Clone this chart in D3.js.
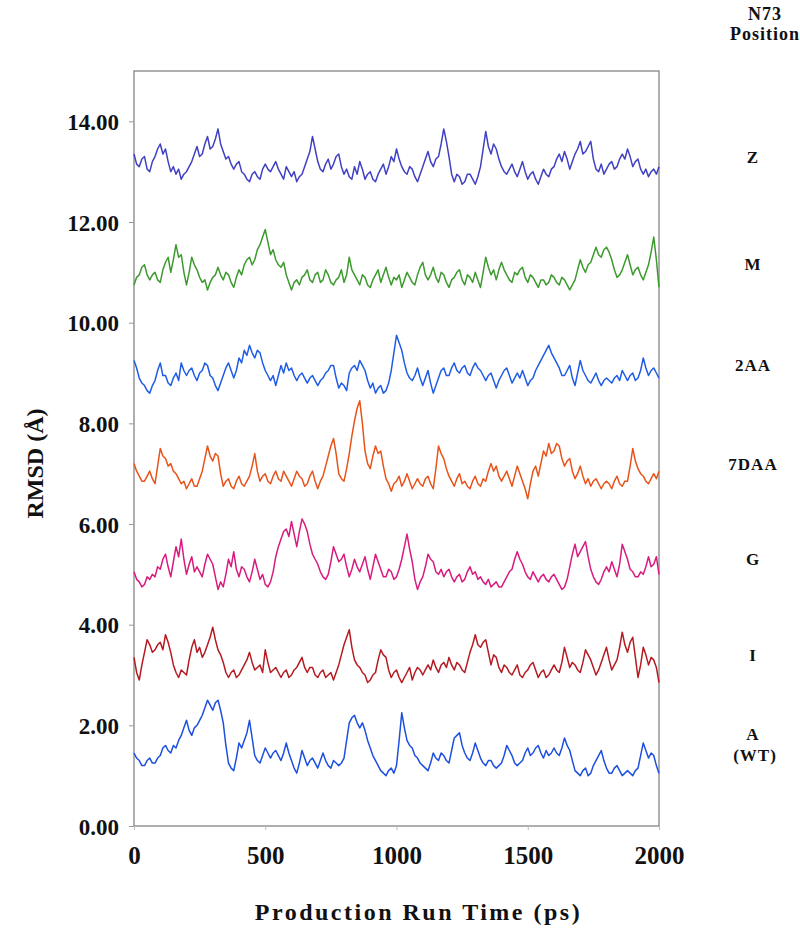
<!DOCTYPE html>
<html>
<head>
<meta charset="utf-8">
<script src="https://cdn.jsdelivr.net/npm/d3@7"></script>
<style>
  body { margin: 0; background: #fff; }
  svg text { font-family: "Liberation Serif", "Times New Roman", serif; font-weight: bold; fill: #111; }
</style>
</head>
<body>
<svg id="chart" width="800" height="938"></svg>
<script>
// time axis: one sample every 10 ps, 0..2000
const times = d3.range(0, 2001, 10);

const yTicks = [0, 2, 4, 6, 8, 10, 12, 14];
const xTicks = [0, 500, 1000, 1500, 2000];

const names = ["Z", "M", "2AA", "7DAA", "G", "I", "A"];
const subNames = ["", "", "", "", "", "", "(WT)"];
const colors = ["#4040c4", "#3d9a2e", "#1f5ce6", "#e8531a", "#d81b7f", "#b51a20", "#1d4fe0"];

// one row = 200 ps
const rmsdZ = [
  13.35, 13.15, 13.10, 13.25, 13.30, 13.05, 13.00, 13.20, 13.30, 13.45, 13.55, 13.35, 13.45, 13.20, 13.00, 13.10, 12.95, 13.05, 12.85, 12.95,
  13.00, 13.10, 13.20, 13.35, 13.50, 13.30, 13.35, 13.55, 13.70, 13.45, 13.50, 13.65, 13.85, 13.55, 13.40, 13.25, 13.30, 13.15, 13.05, 13.15,
  13.20, 13.00, 12.95, 12.85, 12.80, 12.95, 13.00, 12.90, 12.85, 13.05, 13.15, 13.05, 13.00, 13.10, 13.20, 13.05, 12.95, 12.85, 13.10, 13.00,
  12.90, 13.00, 12.80, 12.90, 12.95, 13.10, 13.25, 13.40, 13.70, 13.45, 13.20, 13.05, 13.00, 13.15, 13.25, 13.05, 13.15, 13.30, 13.35, 13.10,
  12.95, 13.05, 12.90, 12.85, 13.10, 12.95, 13.20, 13.05, 12.85, 12.95, 13.00, 12.85, 12.80, 12.95, 13.05, 13.15, 12.95, 13.10, 13.30, 13.20,
  13.45, 13.25, 13.10, 13.00, 12.95, 13.10, 13.05, 12.90, 12.80, 12.95, 13.10, 13.25, 13.40, 13.20, 13.10, 13.25, 13.30, 13.55, 13.85, 13.60,
  13.30, 12.95, 12.80, 12.95, 12.90, 12.75, 12.80, 12.95, 12.95, 12.85, 12.75, 12.90, 13.10, 13.45, 13.80, 13.50, 13.35, 13.55, 13.45, 13.25,
  13.10, 13.00, 12.95, 13.05, 13.15, 13.00, 12.90, 13.05, 13.20, 13.00, 12.85, 12.95, 13.00, 12.85, 12.75, 12.90, 13.05, 12.95, 12.90, 13.05,
  13.10, 13.25, 13.35, 13.20, 13.40, 13.25, 13.05, 13.20, 13.35, 13.45, 13.60, 13.35, 13.40, 13.50, 13.60, 13.25, 13.05, 13.00, 13.15, 12.95,
  13.05, 13.15, 13.20, 13.05, 13.10, 13.25, 13.35, 13.25, 13.45, 13.30, 13.10, 13.20, 13.25, 13.05, 12.95, 13.05, 12.90, 13.00, 13.05, 12.95,
  13.10
];
const rmsdM = [
  10.75, 10.90, 10.95, 11.10, 11.15, 10.95, 10.85, 10.95, 11.00, 10.85, 10.80, 11.05, 11.20, 11.30, 11.00, 11.25, 11.55, 11.30, 11.35, 11.00,
  10.75, 11.00, 11.30, 11.15, 11.05, 10.90, 10.80, 10.85, 10.65, 10.80, 10.90, 10.95, 11.10, 10.95, 10.85, 11.00, 10.95, 10.80, 10.70, 10.90,
  11.05, 10.95, 11.15, 11.25, 11.30, 11.15, 11.25, 11.45, 11.55, 11.70, 11.85, 11.60, 11.35, 11.45, 11.25, 11.15, 11.10, 11.20, 10.95, 10.80,
  10.65, 10.80, 10.85, 10.75, 10.90, 10.95, 11.05, 10.85, 10.80, 10.95, 11.00, 10.80, 10.85, 11.05, 10.95, 10.80, 10.75, 10.85, 10.90, 11.05,
  10.80, 10.95, 11.30, 11.05, 10.95, 10.85, 10.75, 10.95, 10.90, 10.75, 10.70, 10.85, 10.95, 11.05, 10.80, 10.95, 11.10, 10.90, 10.75, 10.90,
  10.85, 10.95, 10.70, 10.85, 11.00, 10.90, 10.80, 10.75, 10.95, 11.10, 11.20, 10.95, 10.85, 10.95, 11.10, 10.90, 10.80, 11.00, 10.95, 10.80,
  10.70, 10.85, 10.90, 11.00, 11.05, 10.85, 10.75, 10.95, 10.90, 10.80, 11.00, 10.85, 10.70, 11.00, 11.30, 11.10, 10.95, 11.05, 10.85, 11.05,
  11.20, 11.05, 10.95, 10.85, 10.80, 11.00, 10.95, 11.05, 11.10, 10.90, 10.80, 10.95, 10.90, 10.80, 10.70, 10.85, 10.85, 10.75, 10.80, 10.95,
  10.90, 10.80, 10.75, 10.90, 10.85, 10.75, 10.65, 10.75, 10.85, 11.05, 11.25, 11.10, 11.00, 11.15, 11.20, 11.35, 11.50, 11.35, 11.30, 11.45,
  11.50, 11.40, 11.25, 11.05, 10.90, 10.95, 11.05, 11.20, 11.35, 11.15, 10.95, 11.05, 11.10, 10.95, 10.85, 11.00, 11.15, 11.40, 11.70, 11.25,
  10.70
];
const rmsd2AA = [
  9.25, 9.10, 8.90, 8.80, 8.75, 8.65, 8.60, 8.75, 8.85, 9.05, 9.20, 8.95, 8.95, 8.80, 8.75, 8.90, 9.00, 8.85, 9.20, 9.05,
  8.95, 9.05, 9.10, 8.95, 8.85, 9.00, 9.05, 9.20, 9.15, 8.95, 8.90, 8.75, 8.65, 8.80, 8.95, 9.10, 9.20, 9.05, 8.90, 9.05,
  9.30, 9.20, 9.45, 9.35, 9.55, 9.40, 9.30, 9.45, 9.40, 9.20, 9.05, 8.95, 8.85, 8.95, 8.75, 8.95, 9.15, 9.00, 9.20, 9.05,
  9.10, 8.95, 8.85, 8.95, 9.00, 8.90, 8.80, 8.90, 8.95, 8.85, 8.75, 8.85, 8.90, 9.00, 9.05, 9.15, 9.15, 8.90, 8.70, 8.80,
  8.75, 8.65, 9.00, 9.10, 9.15, 9.05, 9.25, 9.15, 9.05, 8.85, 8.70, 8.80, 8.60, 8.70, 8.75, 8.60, 8.65, 8.80, 9.05, 9.40,
  9.75, 9.60, 9.45, 9.20, 9.00, 8.90, 8.85, 8.95, 9.10, 8.90, 8.75, 8.90, 9.05, 8.80, 8.60, 8.75, 8.90, 9.05, 9.10, 8.95,
  8.95, 9.10, 9.20, 9.05, 9.00, 9.10, 9.15, 9.00, 8.95, 9.10, 9.20, 9.10, 9.05, 8.95, 8.85, 8.95, 9.00, 8.85, 8.70, 8.85,
  8.95, 9.05, 9.10, 8.95, 8.80, 8.90, 9.00, 8.90, 9.05, 8.90, 8.75, 8.85, 8.90, 9.05, 9.15, 9.25, 9.35, 9.45, 9.55, 9.40,
  9.30, 9.20, 9.10, 8.95, 8.95, 9.05, 9.15, 8.90, 8.75, 9.00, 9.25, 9.05, 8.95, 8.85, 8.80, 8.90, 9.00, 8.85, 8.75, 8.85,
  8.90, 8.85, 8.80, 8.90, 8.95, 8.85, 9.05, 8.95, 8.85, 8.95, 9.00, 8.85, 8.90, 9.05, 9.30, 9.10, 8.95, 9.05, 9.10, 9.00,
  8.90
];
const rmsd7DAA = [
  7.20, 7.05, 6.95, 6.85, 6.85, 6.95, 7.05, 6.90, 6.80, 7.15, 7.50, 7.35, 7.30, 7.15, 7.20, 7.05, 7.00, 6.90, 6.80, 6.85,
  6.70, 6.80, 6.90, 6.75, 6.75, 6.90, 7.05, 7.30, 7.55, 7.35, 7.25, 7.40, 7.35, 7.00, 6.75, 6.85, 6.90, 6.75, 6.70, 6.85,
  6.95, 6.80, 6.75, 6.85, 6.95, 7.15, 7.40, 7.05, 6.85, 6.95, 7.00, 6.85, 6.80, 6.95, 7.05, 6.90, 6.85, 7.05, 6.95, 6.85,
  6.75, 6.90, 7.05, 6.95, 6.90, 6.75, 6.80, 6.95, 7.05, 6.85, 6.70, 6.85, 6.95, 7.15, 7.35, 7.55, 7.70, 7.40, 7.00, 6.90,
  6.85, 7.10, 7.40, 7.75, 8.05, 8.30, 8.45, 8.00, 7.45, 7.20, 7.10, 7.35, 7.55, 7.40, 7.45, 7.15, 6.90, 6.80, 6.65, 6.80,
  6.85, 6.95, 6.75, 6.85, 7.00, 6.85, 6.70, 6.80, 6.90, 6.80, 6.75, 6.90, 6.95, 6.80, 6.70, 7.10, 7.55, 7.40, 7.30, 7.10,
  6.95, 6.85, 6.75, 6.90, 7.00, 6.80, 6.85, 6.75, 6.70, 6.85, 6.95, 6.80, 6.75, 6.90, 6.85, 7.05, 7.20, 7.05, 7.15, 6.95,
  6.85, 6.95, 7.05, 6.90, 6.75, 6.95, 7.15, 7.00, 6.85, 6.70, 6.50, 6.80, 7.05, 7.15, 6.95, 7.20, 7.45, 7.35, 7.60, 7.40,
  7.45, 7.60, 7.55, 7.30, 7.15, 7.25, 7.30, 7.05, 6.90, 7.00, 7.15, 6.95, 6.80, 6.90, 6.75, 6.85, 6.90, 6.80, 6.70, 6.80,
  6.85, 6.80, 6.70, 6.85, 6.95, 6.80, 6.75, 6.85, 6.85, 7.15, 7.50, 7.25, 7.10, 7.00, 6.95, 6.85, 6.80, 6.90, 7.00, 6.90,
  7.05
];
const rmsdG = [
  5.05, 4.90, 4.85, 4.75, 4.80, 4.95, 4.90, 5.00, 4.95, 5.15, 5.10, 5.30, 5.40, 5.15, 4.95, 5.25, 5.55, 5.35, 5.70, 5.30,
  5.00, 5.20, 5.35, 5.05, 5.15, 5.05, 4.95, 5.20, 5.40, 5.30, 5.20, 4.95, 4.70, 4.85, 4.75, 5.00, 5.30, 5.15, 5.45, 5.10,
  4.95, 5.15, 5.10, 4.95, 4.85, 5.05, 5.30, 5.10, 4.90, 5.00, 4.80, 4.75, 4.85, 5.05, 5.35, 5.55, 5.70, 5.85, 5.90, 5.75,
  6.05, 5.80, 5.55, 5.85, 6.10, 6.00, 5.85, 5.60, 5.40, 5.30, 5.20, 5.05, 4.95, 4.90, 5.00, 5.25, 5.55, 5.40, 5.25, 5.30,
  5.40, 5.15, 4.95, 5.10, 5.30, 5.15, 5.05, 5.20, 5.35, 5.10, 4.90, 5.15, 5.40, 5.25, 5.10, 4.95, 4.95, 5.10, 5.05, 4.90,
  4.95, 5.10, 5.30, 5.55, 5.80, 5.50, 5.25, 4.90, 4.70, 4.85, 4.95, 5.15, 5.40, 5.30, 5.25, 5.05, 5.00, 5.10, 4.95, 5.05,
  5.10, 4.95, 4.85, 4.95, 5.00, 4.85, 4.90, 5.05, 5.15, 5.00, 5.05, 4.90, 4.95, 4.85, 4.80, 4.90, 4.75, 4.80, 4.85, 4.75,
  4.75, 4.85, 4.95, 5.05, 5.10, 5.30, 5.45, 5.30, 5.20, 5.05, 4.95, 4.90, 5.05, 4.95, 4.85, 4.95, 5.00, 4.90, 4.85, 4.95,
  5.00, 4.90, 4.80, 4.70, 4.75, 4.90, 5.15, 5.40, 5.60, 5.35, 5.45, 5.55, 5.65, 5.35, 5.10, 4.95, 4.85, 4.80, 4.90, 5.05,
  5.15, 5.05, 5.25, 5.10, 4.95, 5.20, 5.60, 5.45, 5.30, 5.10, 5.05, 4.95, 4.95, 5.05, 5.00, 5.15, 5.35, 5.15, 5.20, 5.35,
  5.00
];
const rmsdI = [
  3.35, 3.05, 2.90, 3.20, 3.45, 3.70, 3.60, 3.45, 3.50, 3.60, 3.65, 3.50, 3.80, 3.65, 3.45, 3.20, 3.05, 2.95, 3.10, 3.05,
  3.00, 3.30, 3.55, 3.70, 3.45, 3.55, 3.35, 3.45, 3.60, 3.75, 3.95, 3.70, 3.50, 3.40, 3.25, 3.05, 2.95, 3.05, 3.10, 2.95,
  3.00, 3.10, 3.20, 3.30, 3.45, 3.25, 3.10, 3.15, 3.20, 3.05, 3.50, 3.25, 3.05, 3.10, 3.15, 3.05, 2.95, 3.05, 3.10, 2.95,
  3.00, 3.10, 3.15, 3.25, 3.35, 3.15, 3.05, 3.15, 3.15, 3.00, 2.95, 3.05, 3.10, 2.95, 3.00, 3.05, 2.90, 3.05, 3.20, 3.40,
  3.60, 3.75, 3.90, 3.55, 3.30, 3.20, 3.15, 3.05, 3.00, 2.85, 2.90, 3.00, 3.05, 3.30, 3.50, 3.40, 3.35, 3.10, 2.95, 3.05,
  3.10, 2.95, 2.85, 2.95, 3.05, 3.15, 2.90, 3.05, 3.15, 3.10, 3.00, 3.10, 3.20, 3.10, 3.30, 3.15, 3.05, 3.20, 3.25, 3.15,
  3.35, 3.20, 3.10, 3.25, 3.20, 3.10, 3.05, 3.25, 3.45, 3.60, 3.80, 3.60, 3.55, 3.65, 3.70, 3.45, 3.20, 3.40, 3.35, 3.15,
  3.05, 3.20, 3.15, 3.05, 3.00, 3.10, 3.20, 3.00, 2.95, 3.05, 3.10, 3.20, 3.25, 3.10, 2.95, 3.05, 3.10, 2.95, 3.00, 3.10,
  3.20, 3.10, 3.05, 3.25, 3.55, 3.35, 3.15, 3.25, 3.20, 3.10, 3.05, 3.25, 3.50, 3.40, 3.30, 3.15, 3.00, 3.10, 3.25, 3.40,
  3.55, 3.30, 3.10, 3.20, 3.30, 3.55, 3.85, 3.60, 3.45, 3.65, 3.75, 3.35, 2.95, 3.20, 3.55, 3.40, 3.20, 3.35, 3.30, 3.15,
  2.85
];
const rmsdA = [
  1.45, 1.35, 1.30, 1.20, 1.20, 1.30, 1.35, 1.25, 1.25, 1.35, 1.40, 1.55, 1.60, 1.50, 1.45, 1.60, 1.55, 1.70, 1.80, 1.95,
  2.10, 1.90, 1.80, 1.95, 2.00, 2.10, 2.20, 2.35, 2.50, 2.40, 2.30, 2.45, 2.50, 2.30, 2.05, 1.60, 1.25, 1.15, 1.10, 1.35,
  1.65, 1.55, 1.70, 1.85, 2.10, 1.75, 1.40, 1.30, 1.25, 1.40, 1.55, 1.45, 1.35, 1.45, 1.50, 1.40, 1.30, 1.45, 1.65, 1.45,
  1.30, 1.15, 1.05, 1.25, 1.50, 1.35, 1.20, 1.30, 1.35, 1.25, 1.15, 1.30, 1.45, 1.30, 1.20, 1.15, 1.30, 1.25, 1.20, 1.25,
  1.35, 1.70, 2.05, 2.15, 2.20, 2.05, 1.95, 2.05, 1.90, 1.70, 1.55, 1.40, 1.30, 1.20, 1.10, 1.05, 1.00, 1.10, 1.15, 1.05,
  1.20, 1.70, 2.25, 1.95, 1.70, 1.60, 1.55, 1.40, 1.35, 1.25, 1.20, 1.15, 1.10, 1.25, 1.45, 1.35, 1.30, 1.45, 1.40, 1.30,
  1.25, 1.50, 1.75, 1.80, 1.85, 1.60, 1.45, 1.35, 1.30, 1.45, 1.65, 1.50, 1.35, 1.25, 1.20, 1.30, 1.30, 1.20, 1.15, 1.20,
  1.25, 1.40, 1.60, 1.50, 1.40, 1.25, 1.20, 1.25, 1.30, 1.45, 1.55, 1.40, 1.45, 1.55, 1.60, 1.45, 1.35, 1.50, 1.40, 1.45,
  1.55, 1.45, 1.40, 1.55, 1.75, 1.60, 1.50, 1.30, 1.10, 1.05, 1.00, 1.10, 1.15, 1.00, 1.05, 1.20, 1.30, 1.40, 1.50, 1.30,
  1.15, 1.05, 1.05, 1.15, 1.20, 1.10, 1.00, 1.05, 1.10, 1.05, 1.00, 1.10, 1.15, 1.40, 1.65, 1.50, 1.35, 1.45, 1.40, 1.20,
  1.05
];

const seriesValues = [rmsdZ, rmsdM, rmsd2AA, rmsd7DAA, rmsdG, rmsdI, rmsdA];

const margin = { left: 134, right: 141, top: 71, bottom: 112 };
const width = 800, height = 938;

const svg = d3.select("#chart");

const x = d3.scaleLinear().domain([0, 2000]).range([margin.left, width - margin.right]);
const y = d3.scaleLinear().domain([0, 15]).range([height - margin.bottom, margin.top]);

// frame
svg.append("rect")
  .attr("x", x(0))
  .attr("y", y(15))
  .attr("width", x(2000) - x(0))
  .attr("height", y(0) - y(15))
  .attr("fill", "none")
  .attr("stroke", "#7a7a7a")
  .attr("stroke-width", 1.2);

// y axis
const yAxis = svg.append("g")
  .attr("transform", `translate(${x(0)},0)`)
  .call(d3.axisLeft(y).tickValues(yTicks).tickFormat(d3.format(".2f")).tickSize(5).tickPadding(10));
yAxis.select(".domain").remove();
yAxis.selectAll("line").attr("stroke", "#999");
yAxis.selectAll("text").style("font-size", "23px").attr("dy", "0.35em");

// x axis
const xAxis = svg.append("g")
  .attr("transform", `translate(0,${y(0)})`)
  .call(d3.axisBottom(x).tickValues(xTicks).tickFormat(d3.format("d")).tickSize(4).tickPadding(16));
xAxis.select(".domain").remove();
xAxis.selectAll("line").attr("stroke", "#bbb");
xAxis.selectAll("text").style("font-size", "25px");

// lines
const line = d3.line()
  .x((d, i) => x(times[i]))
  .y(d => y(d));

svg.append("g")
  .attr("class", "series")
  .selectAll("path")
  .data(seriesValues)
  .enter().append("path")
  .attr("d", d => line(d))
  .attr("fill", "none")
  .attr("stroke", (d, i) => colors[i])
  .attr("stroke-width", 1.5)
  .attr("stroke-linejoin", "round");

// right-hand labels, placed next to each trace
const labelX = 753;
const labels = svg.append("g").attr("class", "labels");
seriesValues.forEach((vals, i) => {
  const cy = y(d3.mean(vals)) - 8;
  if (subNames[i]) {
    labels.append("text")
      .attr("x", labelX).attr("y", cy - 5)
      .attr("text-anchor", "middle")
      .style("font-size", "17px").style("letter-spacing", "1px")
      .text(names[i]);
    labels.append("text")
      .attr("x", labelX + 2).attr("y", cy + 16)
      .attr("text-anchor", "middle")
      .style("font-size", "17px").style("letter-spacing", "1px")
      .text(subNames[i]);
  } else {
    labels.append("text")
      .attr("x", labelX).attr("y", cy + 6)
      .attr("text-anchor", "middle")
      .style("font-size", "17px").style("letter-spacing", "1px")
      .text(names[i]);
  }
});

labels.append("text")
  .attr("x", 765).attr("y", 20)
  .attr("text-anchor", "middle")
  .style("font-size", "18px").style("letter-spacing", "1px")
  .text("N73");
labels.append("text")
  .attr("x", 765).attr("y", 40)
  .attr("text-anchor", "middle")
  .style("font-size", "18px").style("letter-spacing", "1px")
  .text("Position");

// axis titles
svg.append("text")
  .attr("x", (x(0) + x(2000)) / 2 + 22)
  .attr("y", 920)
  .attr("text-anchor", "middle")
  .style("font-size", "24px").style("letter-spacing", "2.5px")
  .text("Production Run Time (ps)");

svg.append("text")
  .attr("transform", `translate(43,${(y(0) + y(15)) / 2 + 15}) rotate(-90)`)
  .attr("text-anchor", "middle")
  .style("font-size", "24px")
  .text("RMSD (Å)");
</script>
</body>
</html>
